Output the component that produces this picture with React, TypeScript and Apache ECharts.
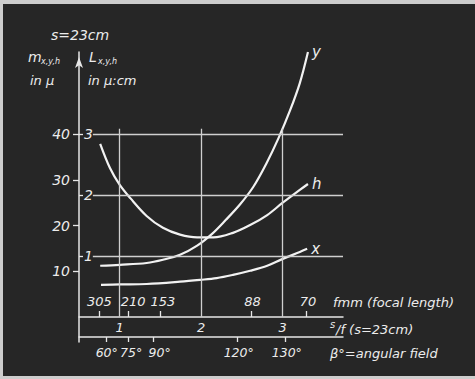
import React, { useEffect, useRef } from 'react';
import * as echarts from 'echarts';

// ---- data (x = s/f, y = m in µ) ----
const curveNames = ['y', 'h', 'x'];
const yCurve: [number, number][] = [
  [0.76, 11.2], [1.0, 11.4], [1.33, 11.8], [1.53, 12.5], [1.74, 13.6], [1.95, 15.6],
  [2.14, 18.3], [2.3, 21.2], [2.475, 24.6], [2.64, 28.5], [2.8, 33.6], [2.95, 39.2],
  [3.09, 45.2], [3.21, 51.2], [3.31, 58.0],
];
const hCurve: [number, number][] = [
  [0.76, 37.9], [0.88, 32.6], [1.0, 28.9], [1.13, 26.0], [1.33, 22.1], [1.53, 19.5],
  [1.74, 18.0], [1.95, 17.4], [2.15, 17.4], [2.39, 18.4], [2.6, 20.1], [2.81, 22.3],
  [3.0, 25.0], [3.21, 27.8], [3.31, 29.1],
];
const xCurve: [number, number][] = [
  [0.77, 7.0], [1.0, 7.1], [1.33, 7.2], [1.74, 7.7], [1.985, 8.1], [2.19, 8.5],
  [2.39, 9.2], [2.6, 10.1], [2.81, 11.2], [3.0, 12.7], [3.21, 14.2], [3.3, 14.9],
];
const curves = [yCurve, hCurve, xCurve];

const mTicks = [10, 20, 30, 40];          // left scale, m in µ
const lTicks = [1, 2, 3];                 // right-of-axis scale, L in µ:cm
const sfTicks = [1, 2, 3];                // s/f
const focalLabels = ['305', '210', '153', '88', '70'];
const focalTickPositions = [0.75, 1.11, 1.5, 2.61, 3.29];    // in s/f units
const focalLabelPositions = [0.75, 1.165, 1.53, 2.63, 3.31];  // where the labels sit
const angleLabels = ['60°', '75°', '90°', '120°', '130°'];
const angleTickPositions = [0.84, 1.1, 1.41, 2.44, 3.03];     // in s/f units
const angleLabelPositions = [0.84, 1.14, 1.49, 2.46, 3.05];
const sfGridTop = 41.2;                   // m value where vertical grid lines end
const lGridStart = 0.67;                  // s/f where horizontal grid lines start

const X_MIN = 0.5, X_MAX = 3.74;
const M_MIN = -5.5, M_MAX = 58;
const L_PER_M = 3 / 40;

const FONT = '"DejaVu Sans", sans-serif';
const TXT = '#ececec';
const LINE = '#e6e6e6';
const GRID = '#cfcfcf';

const lookup = (v: number, pos: number[], labels: string[]) => {
  let best = 0;
  for (let i = 1; i < pos.length; i++) if (Math.abs(pos[i] - v) < Math.abs(pos[best] - v)) best = i;
  return labels[best];
};

const font = (size: number) => `italic ${size}px ${FONT}`;

export default function App() {
  const ref = useRef<HTMLDivElement>(null);
  useEffect(() => {
    if (!ref.current) return;
    const chart = echarts.init(ref.current, undefined, { renderer: 'svg' });
    const txt = { color: TXT, fontFamily: FONT, fontStyle: 'italic' as const };
    const lbl = { showMinLabel: true, showMaxLabel: true, hideOverlap: false };
    const option: any = {
      animation: false,
      backgroundColor: 'transparent',
      grid: { left: 79, right: 475 - 343, top: 52, bottom: 37, containLabel: false, outerBoundsMode: 'none' },
      xAxis: [
        {
          type: 'value', min: X_MIN, max: X_MAX, position: 'bottom', offset: -25,
          axisLine: { show: true, onZero: false, lineStyle: { color: LINE, width: 1.5 } },
          axisTick: { show: true, inside: true, length: 6, customValues: focalTickPositions, lineStyle: { color: LINE, width: 1.3 } },
          axisLabel: { show: true, inside: true, margin: 9, customValues: focalLabelPositions, ...lbl,
            formatter: (v: number) => lookup(v, focalLabelPositions, focalLabels), ...txt, fontSize: 13 },
          splitLine: { show: false },
        },
        {
          type: 'value', min: X_MIN, max: X_MAX, position: 'bottom', offset: -5,
          axisLine: { show: true, onZero: false, lineStyle: { color: LINE, width: 1.5 } },
          axisTick: { show: true, inside: false, length: 5, customValues: angleTickPositions, lineStyle: { color: LINE, width: 1.3 } },
          axisLabel: { show: true, margin: 9, customValues: angleLabelPositions, ...lbl,
            formatter: (v: number) => lookup(v, angleLabelPositions, angleLabels), ...txt, fontSize: 12.5 },
          splitLine: { show: false },
        },
        {
          type: 'value', min: X_MIN, max: X_MAX, position: 'bottom', offset: -5,
          axisLine: { show: false, onZero: false },
          axisTick: { show: false },
          axisLabel: { show: true, inside: true, margin: 3, customValues: sfTicks, ...lbl,
            formatter: (v: number) => String(Math.round(v)), ...txt, fontSize: 13 },
          splitLine: { show: false },
        },
      ],
      yAxis: [
        {
          type: 'value', min: M_MIN, max: M_MAX, position: 'left',
          axisLine: { show: true, onZero: false, symbol: ['none', 'arrow'], symbolSize: [6, 11], symbolOffset: [0, -5],
            lineStyle: { color: LINE, width: 1.5 } },
          axisTick: { show: true, length: 6, customValues: mTicks, lineStyle: { color: LINE, width: 1.3 } },
          axisLabel: { show: true, margin: 9, customValues: mTicks, ...lbl, formatter: (v: number) => String(Math.round(v)), ...txt, fontSize: 14 },
          splitLine: { show: false },
        },
        {
          type: 'value', min: M_MIN * L_PER_M, max: M_MAX * L_PER_M, position: 'left',
          axisLine: { show: false, onZero: false },
          axisTick: { show: true, inside: true, length: 4, customValues: lTicks, lineStyle: { color: LINE, width: 1.3 } },
          axisLabel: { show: true, inside: true, margin: 5, customValues: lTicks, ...lbl, formatter: (v: number) => String(Math.round(v)), ...txt, fontSize: 14 },
          splitLine: { show: false },
        },
      ],
      series: [
        ...curves.map((data, i) => ({
          type: 'line', name: curveNames[i], data, smooth: 0.35, showSymbol: false, symbol: 'none',
          clip: false, silent: true, xAxisIndex: 0, yAxisIndex: 0,
          lineStyle: { color: '#f2f2f2', width: 2.2 },
          endLabel: { show: true, formatter: '{a}', ...txt, fontSize: 15, distance: 4 },
        })),
        {
          type: 'line', name: 'sfGrid', data: [], xAxisIndex: 0, yAxisIndex: 0, silent: true,
          markLine: {
            silent: true, symbol: ['none', 'none'], label: { show: false },
            lineStyle: { color: GRID, width: 1.3, type: 'solid' },
            data: sfTicks.map((v) => [{ coord: [v, 0] }, { coord: [v, sfGridTop] }]),
          },
        },
        {
          type: 'line', name: 'lGrid', data: [], xAxisIndex: 0, yAxisIndex: 1, silent: true,
          markLine: {
            silent: true, symbol: ['none', 'none'], label: { show: false },
            lineStyle: { color: GRID, width: 1.3, type: 'solid' },
            data: lTicks.map((v) => [{ coord: [lGridStart, v] }, { coord: [X_MAX, v] }]),
          },
        },
      ],
      graphic: [
        { type: 'text', x: 51, y: 35, style: { text: 's=23cm', font: font(14), fill: TXT, verticalAlign: 'middle', textVerticalAlign: 'middle' } },
        { type: 'text', x: 28, y: 57, style: { text: 'm', font: font(14), fill: TXT, verticalAlign: 'middle', textVerticalAlign: 'middle' } },
        { type: 'text', x: 41, y: 61, style: { text: 'x,y,h', font: font(8), fill: TXT, verticalAlign: 'middle', textVerticalAlign: 'middle' } },
        { type: 'text', x: 30, y: 80, style: { text: 'in µ', font: font(13), fill: TXT, verticalAlign: 'middle', textVerticalAlign: 'middle' } },
        { type: 'text', x: 89, y: 57, style: { text: 'L', font: font(14), fill: TXT, verticalAlign: 'middle', textVerticalAlign: 'middle' } },
        { type: 'text', x: 98, y: 61, style: { text: 'x,y,h', font: font(8), fill: TXT, verticalAlign: 'middle', textVerticalAlign: 'middle' } },
        { type: 'text', x: 88, y: 80, style: { text: 'in µ:cm', font: font(13), fill: TXT, verticalAlign: 'middle', textVerticalAlign: 'middle' } },
        { type: 'text', x: 333, y: 302, style: { text: 'fmm (focal length)', font: font(13), fill: TXT, verticalAlign: 'middle', textVerticalAlign: 'middle' } },
        { type: 'text', x: 330, y: 324, style: { text: 's', font: font(10), fill: TXT, verticalAlign: 'middle', textVerticalAlign: 'middle' } },
        { type: 'text', x: 336, y: 329, style: { text: '/f (s=23cm)', font: font(13), fill: TXT, verticalAlign: 'middle', textVerticalAlign: 'middle' } },
        { type: 'text', x: 330, y: 353, style: { text: 'β°=angular field', font: font(13), fill: TXT, verticalAlign: 'middle', textVerticalAlign: 'middle' } },
      ],
    };
    chart.setOption(option);
    return () => chart.dispose();
  }, []);

  return (
    <div style={{ position: 'fixed', left: 0, top: 0, width: 475, height: 379, background: '#cdcdcd', overflow: 'hidden' }}>
      <div style={{ position: 'absolute', left: 3, top: 4, width: 472, height: 372, background: '#262626' }} />
      <div ref={ref} style={{ position: 'absolute', left: 0, top: 0, width: 475, height: 379 }} />
    </div>
  );
}
